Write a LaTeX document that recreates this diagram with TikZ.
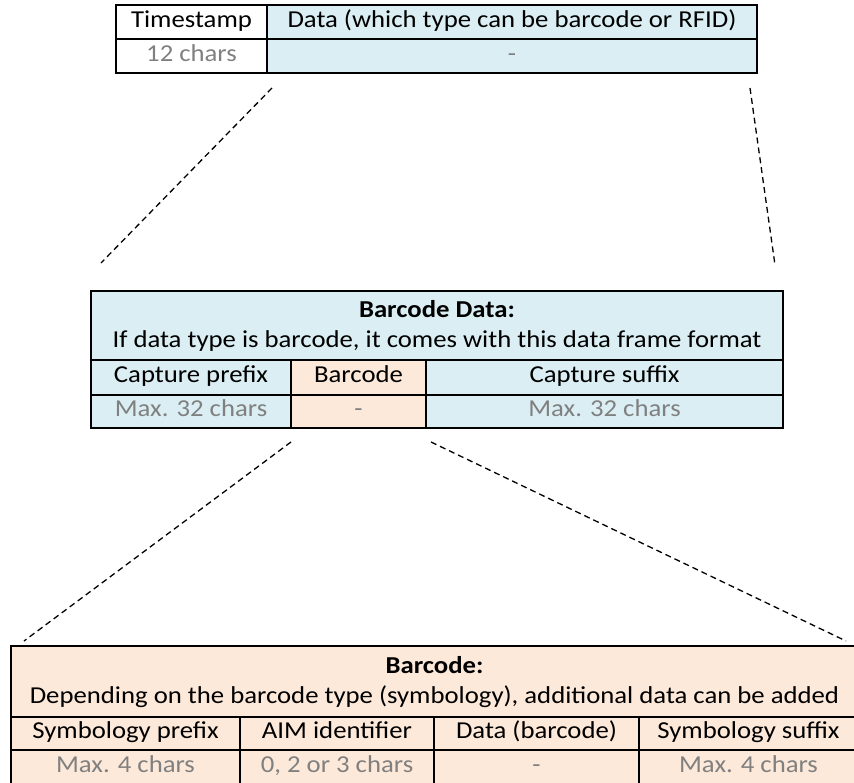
\documentclass[tikz,border=0pt]{standalone}
\usepackage{fontspec}
\setmainfont[FakeStretch=1.1]{Carlito}
\definecolor{lightblue}{HTML}{DAEEF3}
\definecolor{peach}{HTML}{FDE9D9}
\definecolor{hintgray}{HTML}{808080}
\tikzset{
  cell/.style={draw=black,line width=2pt,inner sep=0pt,text height=.96em,text depth=0em},
  headcell/.style={draw=black,line width=2pt,inner sep=0pt,align=center},
  hint/.style={text=hintgray},
  zoomline/.style={dash pattern=on 6pt off 4pt,line width=1.3pt}
}
\begin{document}
\begin{tikzpicture}[x=1pt,y=-1pt,font=\fontsize{24.3}{30}\selectfont]
      \useasboundingbox (0,0) rectangle (854,783);
      % top frame
      \node[cell,minimum width=151,minimum height=34.5] (ts) at (191.5,22.25) {Timestamp};
      \node[cell,fill=lightblue,minimum width=490,minimum height=34.5] (data) at (512,22.25) {Data (which type can be barcode or RFID)};
      \node[cell,hint,minimum width=151,minimum height=33.5] (tslen) at (191.5,56.25) {12 chars};
      \node[cell,hint,fill=lightblue,minimum width=490,minimum height=33.5] (datalen) at (512,56.25) {-};
      % barcode data frame
      \node[headcell,fill=lightblue,minimum width=692,minimum height=70] (bdhead) at (437,326) {\textbf{Barcode Data:}\\If data type is barcode, it comes with this data frame format};
      \node[cell,fill=lightblue,minimum width=200,minimum height=35] (cpre) at (191,377.5) {Capture prefix};
      \node[cell,fill=peach,minimum width=135,minimum height=35] (bcode) at (358.5,377.5) {Barcode};
      \node[cell,fill=lightblue,minimum width=357,minimum height=35] (csuf) at (604.5,377.5) {Capture suffix};
      \node[cell,hint,fill=lightblue,minimum width=200,minimum height=33] (cprelen) at (191,411.5) {Max. 32 chars};
      \node[cell,hint,fill=peach,minimum width=135,minimum height=33] (bcodelen) at (358.5,411.5) {-};
      \node[cell,hint,fill=lightblue,minimum width=357,minimum height=33] (csuflen) at (604.5,411.5) {Max. 32 chars};
      % barcode frame
      \node[headcell,fill=peach,minimum width=847,minimum height=72] (bhead) at (434.5,682) {\textbf{Barcode:}\\Depending on the barcode type (symbology), additional data can be added};
      \node[cell,fill=peach,minimum width=229,minimum height=33] (spre) at (125.5,733.5) {Symbology prefix};
      \node[cell,fill=peach,minimum width=194,minimum height=33] (aim) at (337,733.5) {AIM identifier};
      \node[cell,fill=peach,minimum width=205,minimum height=33] (dbar) at (536.5,733.5) {Data (barcode)};
      \node[cell,fill=peach,minimum width=219,minimum height=33] (ssuf) at (748.5,733.5) {Symbology suffix};
      \node[cell,hint,fill=peach,minimum width=229,minimum height=36] (sprelen) at (125.5,768) {Max. 4 chars};
      \node[cell,hint,fill=peach,minimum width=194,minimum height=36] (aimlen) at (337,768) {0, 2 or 3 chars};
      \node[cell,hint,fill=peach,minimum width=205,minimum height=36] (dbarlen) at (536.5,768) {-};
      \node[cell,hint,fill=peach,minimum width=219,minimum height=36] (ssuflen) at (748.5,768) {Max. 4 chars};
      % zoom lines
      \coordinate (z1a) at (272,88);  \coordinate (z1b) at (101,263);
      \coordinate (z2a) at (750,88);  \coordinate (z2b) at (775,265);
      \coordinate (z3a) at (291,442); \coordinate (z3b) at (24,641);
      \coordinate (z4a) at (431,442); \coordinate (z4b) at (846,641);
      \draw[zoomline](z1a)--(z1b);
      \draw[zoomline](z2a)--(z2b);
      \draw[zoomline](z3a)--(z3b);
      \draw[zoomline](z4a)--(z4b);
    \end{tikzpicture}
\end{document}
